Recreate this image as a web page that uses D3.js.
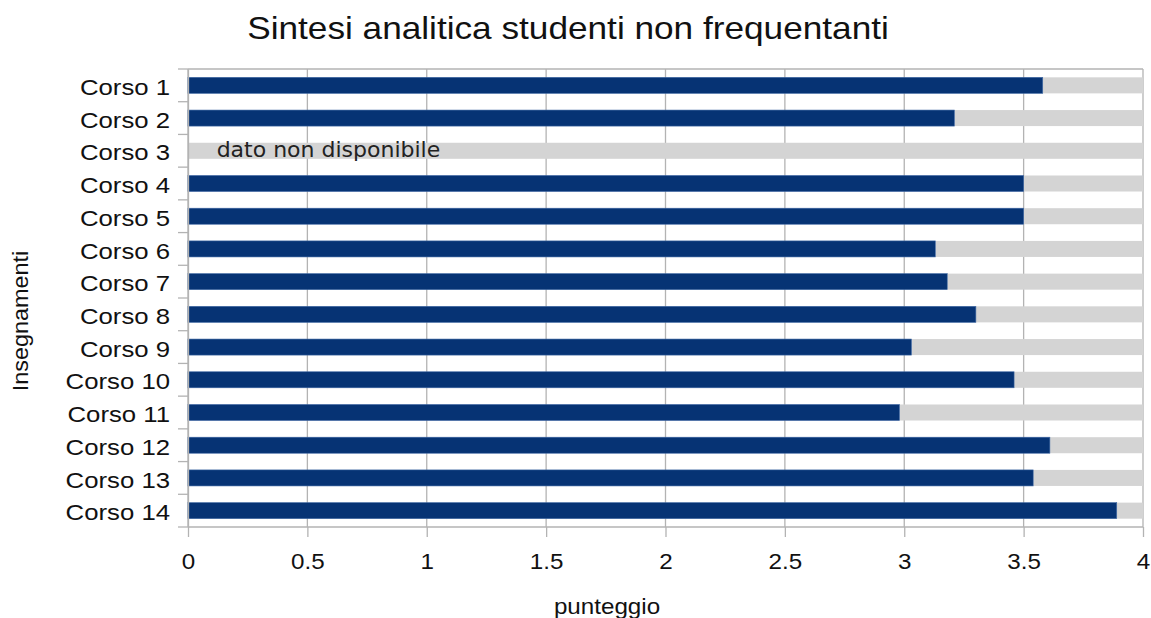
<!DOCTYPE html>
<html><head><meta charset="utf-8">
<script src="https://cdn.jsdelivr.net/npm/d3@7"></script>
<style>body{margin:0;background:#fff}svg{display:block}</style>
</head><body>
<svg id="chart" width="1151" height="618"></svg>
<script>
const categories = ["Corso 1","Corso 2","Corso 3","Corso 4","Corso 5","Corso 6","Corso 7","Corso 8","Corso 9","Corso 10","Corso 11","Corso 12","Corso 13","Corso 14"];
const values = [3.58, 3.21, null, 3.5, 3.5, 3.13, 3.18, 3.3, 3.03, 3.46, 2.98, 3.61, 3.54, 3.89];
const maxScore = 4;
const xTicks = [0, 0.5, 1, 1.5, 2, 2.5, 3, 3.5, 4];
const title = "Sintesi analitica studenti non frequentanti";
const xTitle = "punteggio";
const yTitle = "Insegnamenti";
const missingLabel = "dato non disponibile";

const svg = d3.select("#chart");
const m = {left:188, right:1143, top:69, bottom:527};
const x = d3.scaleLinear().domain([0, maxScore]).range([m.left, m.right]);
const y = d3.scaleBand().domain(categories).range([m.top, m.bottom]).paddingInner(0.51).paddingOuter(0.255);
const gridColor = "#b3b3b3";
const font = "'Liberation Sans', Arial, sans-serif";
const stretch = 1.1;

// gridlines
svg.append("g").selectAll("line").data(xTicks).join("line")
  .attr("x1", d=>x(d)).attr("x2", d=>x(d)).attr("y1", m.top).attr("y2", m.bottom)
  .attr("stroke", gridColor).attr("stroke-width", 1.3);
svg.append("line").attr("x1", m.left).attr("x2", m.right).attr("y1", m.top).attr("y2", m.top)
  .attr("stroke", gridColor).attr("stroke-width", 1.3);

// background (remainder) bars
svg.append("g").selectAll("rect").data(categories).join("rect")
  .attr("x", (d,i)=> x(values[i] == null ? 0 : values[i]))
  .attr("width", (d,i)=> x(maxScore) - x(values[i] == null ? 0 : values[i]))
  .attr("y", d=>y(d)).attr("height", y.bandwidth())
  .attr("fill", "#d4d4d4");

// value bars
svg.append("g").selectAll("rect").data(categories.filter((d,i)=>values[i]!=null)).join("rect")
  .attr("x", x(0))
  .attr("width", d=> x(values[categories.indexOf(d)]) - x(0))
  .attr("y", d=>y(d)).attr("height", y.bandwidth())
  .attr("fill", "#063374").attr("stroke", "#3e67a3").attr("stroke-width", 0.6);

// missing label
categories.forEach((c,i)=>{
  if (values[i] == null) {
    svg.append("text").attr("x", x(0.12)).attr("y", y(c)+y.bandwidth()/2)
      .attr("dy", "0.27em").attr("font-family", "'DejaVu Sans', sans-serif")
      .attr("font-size", 22).attr("fill", "#222").text(missingLabel);
  }
});

// axes
const xAxis = svg.append("g").attr("transform", `translate(0,${m.bottom})`)
  .call(d3.axisBottom(x).tickValues(xTicks).tickFormat(d3.format("")).tickSize(10).tickPadding(16));
const yAxis = svg.append("g").attr("transform", `translate(${m.left},0)`)
  .call(d3.axisLeft(y).tickSize(0).tickPadding(16));
[xAxis, yAxis].forEach(g=>{
  g.select(".domain").attr("stroke", gridColor).attr("stroke-width", 1.3);
  g.selectAll(".tick line").attr("stroke", gridColor).attr("stroke-width", 1.3);
  g.selectAll("text").attr("font-family", font).attr("fill", "#111");
});
xAxis.selectAll("text").attr("font-size", 22).attr("transform", `scale(${stretch},1)`);
yAxis.selectAll("text").attr("font-size", 23).attr("dy", "0.42em").attr("transform", `scale(1.12,1)`);
xAxis.select(".domain").attr("d", `M${m.left},0H${m.right}`);
// category separator ticks
const bounds = d3.range(categories.length + 1).map(i => m.top + i * (m.bottom - m.top) / categories.length);
svg.append("g").selectAll("line").data(bounds).join("line")
  .attr("x1", m.left - 10).attr("x2", m.left).attr("y1", d=>d).attr("y2", d=>d)
  .attr("stroke", gridColor).attr("stroke-width", 1.3);

// titles
svg.append("text").attr("transform", `translate(568,39) scale(${stretch},1)`).attr("text-anchor", "middle")
  .attr("font-family", font).attr("font-size", 32).attr("fill", "#111").text(title);
svg.append("text").attr("transform", `translate(607,614) scale(${stretch},1)`).attr("text-anchor", "middle")
  .attr("font-family", font).attr("font-size", 22).attr("fill", "#111").text(xTitle);
svg.append("text").attr("transform", `translate(27.5,321) rotate(-90) scale(1.09,1)`).attr("text-anchor", "middle")
  .attr("font-family", font).attr("font-size", 21.5).attr("fill", "#111").text(yTitle);
</script>
</body></html>
